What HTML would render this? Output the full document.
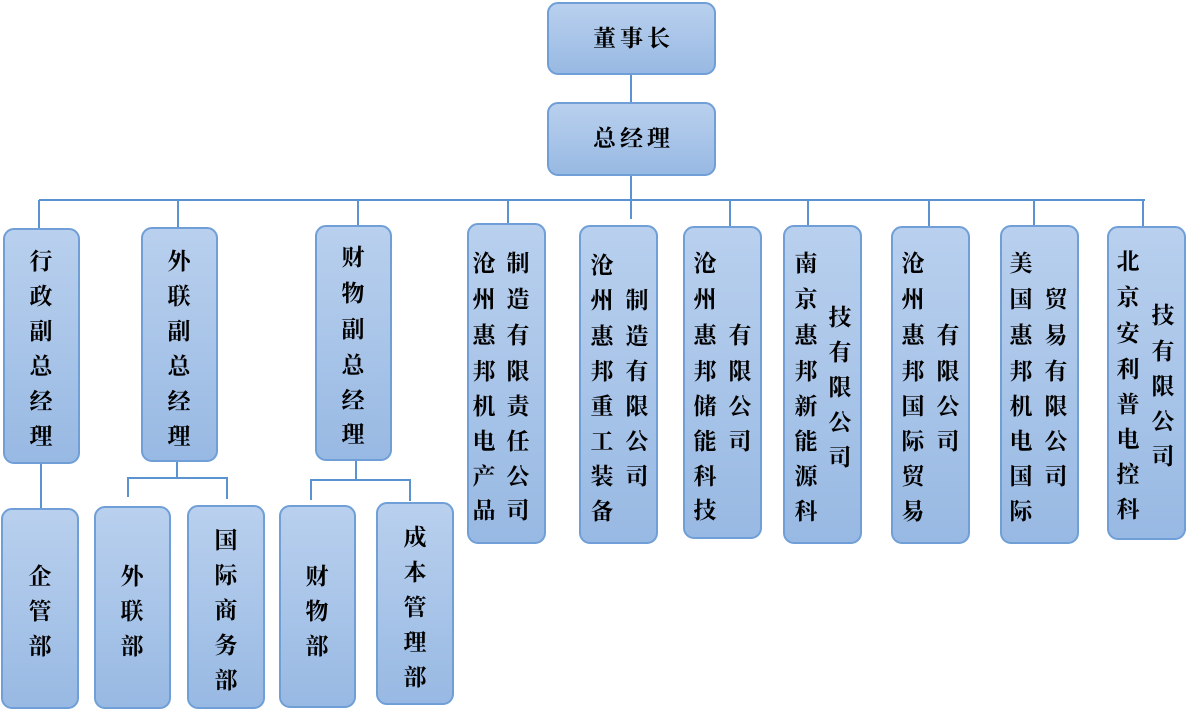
<!DOCTYPE html><html><head><meta charset="utf-8"><style>
body{margin:0;width:1203px;height:709px;background:#fff;position:relative;overflow:hidden;font-family:"Liberation Serif","Noto Serif CJK SC",serif;}
.b{position:absolute;box-sizing:border-box;border:2px solid #6f9fd6;border-radius:11px;background:linear-gradient(#b9d0ee,#98b9e3);}
.l{position:absolute;background:#5b93d0;}
i{position:absolute;font-style:normal;font-weight:bold;font-size:23px;line-height:26px;width:28px;margin-left:-14px;margin-top:-13px;text-align:center;color:#000;}
.t{position:absolute;font-size:23px;font-weight:bold;line-height:26px;text-align:center;letter-spacing:4px;}
</style></head><body>
<!-- lines -->
<div class="l" style="left:630px;top:74px;width:2px;height:28px"></div>
<div class="l" style="left:630px;top:175px;width:2px;height:44px"></div>
<div class="l" style="left:39px;top:199px;width:1106px;height:2px"></div>
<div class="l" style="left:38px;top:200px;width:2px;height:28px"></div>
<div class="l" style="left:177px;top:200px;width:2px;height:27px"></div>
<div class="l" style="left:357px;top:200px;width:2px;height:25px"></div>
<div class="l" style="left:507px;top:200px;width:2px;height:23px"></div>
<div class="l" style="left:729px;top:200px;width:2px;height:26px"></div>
<div class="l" style="left:807px;top:200px;width:2px;height:25px"></div>
<div class="l" style="left:928px;top:200px;width:2px;height:26px"></div>
<div class="l" style="left:1033px;top:200px;width:2px;height:25px"></div>
<div class="l" style="left:1142px;top:200px;width:2px;height:26px"></div>
<div class="l" style="left:40px;top:463px;width:2px;height:45px"></div>
<div class="l" style="left:176px;top:461px;width:2px;height:18px"></div>
<div class="l" style="left:127px;top:477px;width:101px;height:2px"></div>
<div class="l" style="left:127px;top:477px;width:2px;height:20px"></div>
<div class="l" style="left:226px;top:477px;width:2px;height:22px"></div>
<div class="l" style="left:355px;top:460px;width:2px;height:20px"></div>
<div class="l" style="left:310px;top:479px;width:101px;height:2px"></div>
<div class="l" style="left:310px;top:479px;width:2px;height:21px"></div>
<div class="l" style="left:409px;top:479px;width:2px;height:22px"></div>
<!-- top boxes -->
<div class="b" style="left:547px;top:2px;width:169px;height:73px"></div>
<div class="t" style="left:547px;top:26px;width:173px">董事长</div>
<div class="b" style="left:547px;top:102px;width:169px;height:74px"></div>
<div class="t" style="left:547px;top:126px;width:173px">总经理</div>
<!-- level 2 -->
<div class="b" style="left:3px;top:228px;width:77px;height:236px"></div>
<i style="left:41px;top:262px">行</i><i style="left:41px;top:297px">政</i><i style="left:41px;top:332px">副</i><i style="left:41px;top:367px">总</i><i style="left:41px;top:402px">经</i><i style="left:41px;top:437px">理</i>
<div class="b" style="left:141px;top:227px;width:77px;height:235px"></div>
<i style="left:179px;top:262px">外</i><i style="left:179px;top:297px">联</i><i style="left:179px;top:332px">副</i><i style="left:179px;top:367px">总</i><i style="left:179px;top:402px">经</i><i style="left:179px;top:437px">理</i>
<div class="b" style="left:315px;top:225px;width:77px;height:236px"></div>
<i style="left:353px;top:258px">财</i><i style="left:353px;top:294px">物</i><i style="left:353px;top:330px">副</i><i style="left:353px;top:366px">总</i><i style="left:353px;top:401px">经</i><i style="left:353px;top:435px">理</i>

<div class="b" style="left:467px;top:223px;width:79px;height:321px"></div>
<i style="left:484px;top:264px">沧</i><i style="left:484px;top:300px">州</i><i style="left:484px;top:336px">惠</i><i style="left:484px;top:372px">邦</i><i style="left:484px;top:407px">机</i><i style="left:484px;top:442px">电</i><i style="left:484px;top:477px">产</i><i style="left:484px;top:511px">品</i>
<i style="left:518px;top:264px">制</i><i style="left:518px;top:300px">造</i><i style="left:518px;top:336px">有</i><i style="left:518px;top:372px">限</i><i style="left:518px;top:407px">责</i><i style="left:518px;top:442px">任</i><i style="left:518px;top:477px">公</i><i style="left:518px;top:511px">司</i>

<div class="b" style="left:579px;top:225px;width:79px;height:319px"></div>
<i style="left:602px;top:266px">沧</i><i style="left:602px;top:301px">州</i><i style="left:602px;top:337px">惠</i><i style="left:602px;top:372px">邦</i><i style="left:602px;top:407px">重</i><i style="left:602px;top:442px">工</i><i style="left:602px;top:477px">装</i><i style="left:602px;top:512px">备</i>
<i style="left:637px;top:301px">制</i><i style="left:637px;top:337px">造</i><i style="left:637px;top:372px">有</i><i style="left:637px;top:407px">限</i><i style="left:637px;top:442px">公</i><i style="left:637px;top:477px">司</i>

<div class="b" style="left:683px;top:226px;width:79px;height:313px"></div>
<i style="left:705px;top:264px">沧</i><i style="left:705px;top:300px">州</i><i style="left:705px;top:336px">惠</i><i style="left:705px;top:372px">邦</i><i style="left:705px;top:407px">储</i><i style="left:705px;top:442px">能</i><i style="left:705px;top:477px">科</i><i style="left:705px;top:511px">技</i>
<i style="left:740px;top:336px">有</i><i style="left:740px;top:372px">限</i><i style="left:740px;top:407px">公</i><i style="left:740px;top:442px">司</i>

<div class="b" style="left:783px;top:225px;width:79px;height:319px"></div>
<i style="left:806px;top:264px">南</i><i style="left:806px;top:300px">京</i><i style="left:806px;top:336px">惠</i><i style="left:806px;top:372px">邦</i><i style="left:806px;top:407px">新</i><i style="left:806px;top:442px">能</i><i style="left:806px;top:477px">源</i><i style="left:806px;top:512px">科</i>
<i style="left:840px;top:318px">技</i><i style="left:840px;top:353px">有</i><i style="left:840px;top:388px">限</i><i style="left:840px;top:423px">公</i><i style="left:840px;top:458px">司</i>

<div class="b" style="left:891px;top:226px;width:79px;height:318px"></div>
<i style="left:913px;top:264px">沧</i><i style="left:913px;top:300px">州</i><i style="left:913px;top:336px">惠</i><i style="left:913px;top:372px">邦</i><i style="left:913px;top:407px">国</i><i style="left:913px;top:442px">际</i><i style="left:913px;top:477px">贸</i><i style="left:913px;top:512px">易</i>
<i style="left:948px;top:336px">有</i><i style="left:948px;top:372px">限</i><i style="left:948px;top:407px">公</i><i style="left:948px;top:442px">司</i>

<div class="b" style="left:1000px;top:225px;width:79px;height:319px"></div>
<i style="left:1021px;top:264px">美</i><i style="left:1021px;top:300px">国</i><i style="left:1021px;top:336px">惠</i><i style="left:1021px;top:372px">邦</i><i style="left:1021px;top:407px">机</i><i style="left:1021px;top:442px">电</i><i style="left:1021px;top:477px">国</i><i style="left:1021px;top:512px">际</i>
<i style="left:1056px;top:300px">贸</i><i style="left:1056px;top:336px">易</i><i style="left:1056px;top:372px">有</i><i style="left:1056px;top:407px">限</i><i style="left:1056px;top:442px">公</i><i style="left:1056px;top:477px">司</i>

<div class="b" style="left:1107px;top:226px;width:79px;height:314px"></div>
<i style="left:1128px;top:262px">北</i><i style="left:1128px;top:298px">京</i><i style="left:1128px;top:334px">安</i><i style="left:1128px;top:370px">利</i><i style="left:1128px;top:405px">普</i><i style="left:1128px;top:440px">电</i><i style="left:1128px;top:475px">控</i><i style="left:1128px;top:510px">科</i>
<i style="left:1163px;top:316px">技</i><i style="left:1163px;top:352px">有</i><i style="left:1163px;top:387px">限</i><i style="left:1163px;top:422px">公</i><i style="left:1163px;top:457px">司</i>

<!-- level 3 -->
<div class="b" style="left:1px;top:508px;width:78px;height:201px"></div>
<i style="left:40px;top:577px">企</i><i style="left:40px;top:612px">管</i><i style="left:40px;top:647px">部</i>
<div class="b" style="left:94px;top:506px;width:77px;height:203px"></div>
<i style="left:132px;top:577px">外</i><i style="left:132px;top:612px">联</i><i style="left:132px;top:647px">部</i>
<div class="b" style="left:187px;top:505px;width:78px;height:204px"></div>
<i style="left:226px;top:541px">国</i><i style="left:226px;top:576px">际</i><i style="left:226px;top:611px">商</i><i style="left:226px;top:646px">务</i><i style="left:226px;top:681px">部</i>
<div class="b" style="left:279px;top:505px;width:77px;height:203px"></div>
<i style="left:317px;top:577px">财</i><i style="left:317px;top:612px">物</i><i style="left:317px;top:647px">部</i>
<div class="b" style="left:376px;top:502px;width:78px;height:203px"></div>
<i style="left:415px;top:538px">成</i><i style="left:415px;top:573px">本</i><i style="left:415px;top:608px">管</i><i style="left:415px;top:643px">理</i><i style="left:415px;top:678px">部</i>
</body></html>
